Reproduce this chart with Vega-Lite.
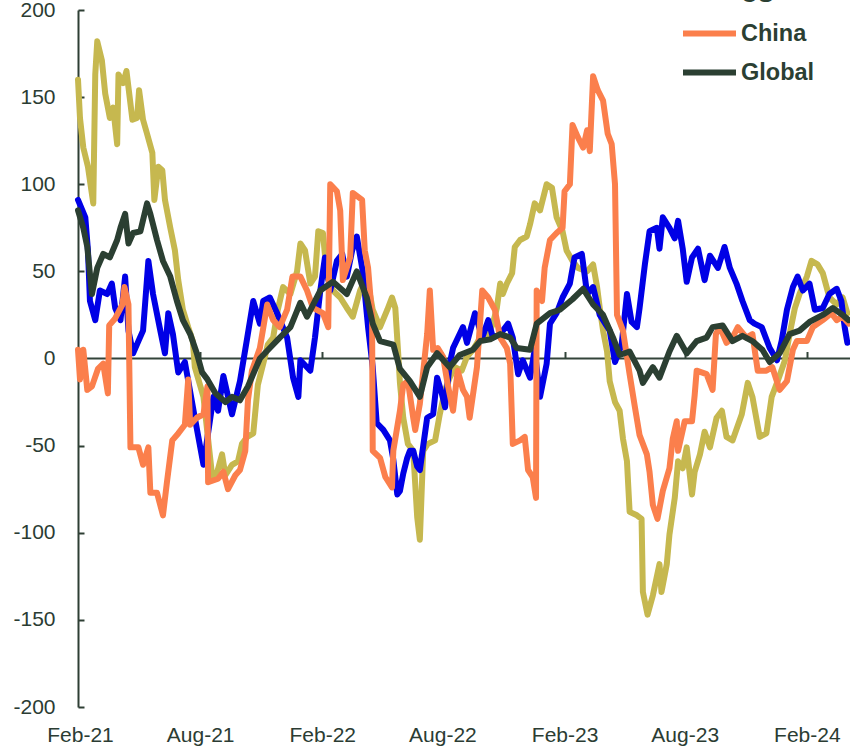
{
"$schema": "https://vega.github.io/schema/vega-lite/v6.json",
"width": 772, "height": 697,
"autosize": {"type": "none"},
"padding": {"left": 78, "top": 10, "right": 0, "bottom": 43},
"background": "white",
"config": {"view": {"stroke": null}, "font": "Liberation Sans"},
"layer": [
{"data": {"values": [{}]},
 "mark": {"type": "rule", "color": "#33443a", "strokeWidth": 2},
 "encoding": {
  "x": {"datum": {"year": 2021, "month": 1, "date": 29}, "type": "temporal",
        "scale": {"domain": [{"year": 2021, "month": 1, "date": 29}, {"year": 2024, "month": 4, "date": 6}]},
        "axis": {"orient": "top", "offset": -348.5, "title": null, "labels": false, "domain": false, "grid": false,
                 "ticks": true, "tickSize": 7, "tickWidth": 2, "tickColor": "#33443a",
                 "values": [{"year": 2021, "month": 2, "date": 1}, {"year": 2021, "month": 8, "date": 1}, {"year": 2022, "month": 2, "date": 1}, {"year": 2022, "month": 8, "date": 1}, {"year": 2023, "month": 2, "date": 1}, {"year": 2023, "month": 8, "date": 1}, {"year": 2024, "month": 2, "date": 1}]}},
  "x2": {"datum": {"year": 2024, "month": 4, "date": 6}},
  "y": {"datum": 0, "type": "quantitative", "title": null}
 }},
{"data": {"values": [
{"date":"2021-01-29","series":"Euro area","value":160},{"date":"2021-02-01","series":"Euro area","value":138},{"date":"2021-02-06","series":"Euro area","value":121},{"date":"2021-02-13","series":"Euro area","value":110},{"date":"2021-02-21","series":"Euro area","value":89},{"date":"2021-02-24","series":"Euro area","value":163},{"date":"2021-02-27","series":"Euro area","value":182},{"date":"2021-03-06","series":"Euro area","value":171},{"date":"2021-03-11","series":"Euro area","value":152},{"date":"2021-03-18","series":"Euro area","value":138},{"date":"2021-03-23","series":"Euro area","value":144},{"date":"2021-03-29","series":"Euro area","value":123},{"date":"2021-03-31","series":"Euro area","value":163},{"date":"2021-04-07","series":"Euro area","value":158},{"date":"2021-04-12","series":"Euro area","value":165},{"date":"2021-04-21","series":"Euro area","value":137},{"date":"2021-04-28","series":"Euro area","value":138},{"date":"2021-05-01","series":"Euro area","value":154},{"date":"2021-05-07","series":"Euro area","value":137},{"date":"2021-05-13","series":"Euro area","value":129},{"date":"2021-05-21","series":"Euro area","value":118},{"date":"2021-05-24","series":"Euro area","value":91},{"date":"2021-05-30","series":"Euro area","value":110},{"date":"2021-06-05","series":"Euro area","value":108},{"date":"2021-06-09","series":"Euro area","value":91},{"date":"2021-06-17","series":"Euro area","value":75},{"date":"2021-06-24","series":"Euro area","value":62},{"date":"2021-06-29","series":"Euro area","value":45},{"date":"2021-07-06","series":"Euro area","value":28},{"date":"2021-07-14","series":"Euro area","value":18},{"date":"2021-07-21","series":"Euro area","value":10},{"date":"2021-07-24","series":"Euro area","value":-5},{"date":"2021-08-06","series":"Euro area","value":-22},{"date":"2021-08-19","series":"Euro area","value":-67},{"date":"2021-08-24","series":"Euro area","value":-69},{"date":"2021-09-03","series":"Euro area","value":-55},{"date":"2021-09-08","series":"Euro area","value":-67},{"date":"2021-09-18","series":"Euro area","value":-61},{"date":"2021-09-27","series":"Euro area","value":-59},{"date":"2021-10-03","series":"Euro area","value":-49},{"date":"2021-10-11","series":"Euro area","value":-45},{"date":"2021-10-20","series":"Euro area","value":-43},{"date":"2021-10-27","series":"Euro area","value":-15},{"date":"2021-11-04","series":"Euro area","value":-3},{"date":"2021-11-11","series":"Euro area","value":8},{"date":"2021-11-19","series":"Euro area","value":12},{"date":"2021-11-26","series":"Euro area","value":28},{"date":"2021-12-04","series":"Euro area","value":41},{"date":"2021-12-15","series":"Euro area","value":37},{"date":"2021-12-25","series":"Euro area","value":50},{"date":"2021-12-30","series":"Euro area","value":66},{"date":"2022-01-06","series":"Euro area","value":62},{"date":"2022-01-14","series":"Euro area","value":43},{"date":"2022-01-21","series":"Euro area","value":47},{"date":"2022-01-26","series":"Euro area","value":73},{"date":"2022-02-02","series":"Euro area","value":72},{"date":"2022-02-08","series":"Euro area","value":47},{"date":"2022-02-17","series":"Euro area","value":39},{"date":"2022-02-28","series":"Euro area","value":35},{"date":"2022-03-10","series":"Euro area","value":29},{"date":"2022-03-19","series":"Euro area","value":24},{"date":"2022-03-30","series":"Euro area","value":39},{"date":"2022-04-09","series":"Euro area","value":47},{"date":"2022-04-18","series":"Euro area","value":28},{"date":"2022-04-29","series":"Euro area","value":18},{"date":"2022-05-10","series":"Euro area","value":28},{"date":"2022-05-17","series":"Euro area","value":35},{"date":"2022-05-22","series":"Euro area","value":29},{"date":"2022-05-26","series":"Euro area","value":5},{"date":"2022-05-29","series":"Euro area","value":-14},{"date":"2022-06-03","series":"Euro area","value":-34},{"date":"2022-06-10","series":"Euro area","value":-49},{"date":"2022-06-18","series":"Euro area","value":-53},{"date":"2022-06-24","series":"Euro area","value":-91},{"date":"2022-06-28","series":"Euro area","value":-104},{"date":"2022-07-03","series":"Euro area","value":-53},{"date":"2022-07-10","series":"Euro area","value":-49},{"date":"2022-07-21","series":"Euro area","value":-47},{"date":"2022-07-28","series":"Euro area","value":-32},{"date":"2022-08-05","series":"Euro area","value":-18},{"date":"2022-08-12","series":"Euro area","value":-11},{"date":"2022-08-20","series":"Euro area","value":-5},{"date":"2022-08-30","series":"Euro area","value":-7},{"date":"2022-09-07","series":"Euro area","value":1},{"date":"2022-09-16","series":"Euro area","value":5},{"date":"2022-09-27","series":"Euro area","value":12},{"date":"2022-10-07","series":"Euro area","value":12},{"date":"2022-10-16","series":"Euro area","value":20},{"date":"2022-10-22","series":"Euro area","value":29},{"date":"2022-10-27","series":"Euro area","value":43},{"date":"2022-10-31","series":"Euro area","value":37},{"date":"2022-11-06","series":"Euro area","value":43},{"date":"2022-11-14","series":"Euro area","value":49},{"date":"2022-11-18","series":"Euro area","value":64},{"date":"2022-11-26","series":"Euro area","value":68},{"date":"2022-12-06","series":"Euro area","value":70},{"date":"2022-12-11","series":"Euro area","value":77},{"date":"2022-12-18","series":"Euro area","value":89},{"date":"2022-12-26","series":"Euro area","value":85},{"date":"2022-12-30","series":"Euro area","value":91},{"date":"2023-01-05","series":"Euro area","value":100},{"date":"2023-01-13","series":"Euro area","value":98},{"date":"2023-01-20","series":"Euro area","value":81},{"date":"2023-01-29","series":"Euro area","value":73},{"date":"2023-02-04","series":"Euro area","value":62},{"date":"2023-02-13","series":"Euro area","value":56},{"date":"2023-02-21","series":"Euro area","value":52},{"date":"2023-03-07","series":"Euro area","value":50},{"date":"2023-03-16","series":"Euro area","value":54},{"date":"2023-03-22","series":"Euro area","value":41},{"date":"2023-03-26","series":"Euro area","value":29},{"date":"2023-03-31","series":"Euro area","value":16},{"date":"2023-04-06","series":"Euro area","value":4},{"date":"2023-04-10","series":"Euro area","value":-13},{"date":"2023-04-18","series":"Euro area","value":-25},{"date":"2023-04-25","series":"Euro area","value":-30},{"date":"2023-04-30","series":"Euro area","value":-46},{"date":"2023-05-06","series":"Euro area","value":-59},{"date":"2023-05-10","series":"Euro area","value":-88},{"date":"2023-05-21","series":"Euro area","value":-90},{"date":"2023-05-28","series":"Euro area","value":-92},{"date":"2023-05-30","series":"Euro area","value":-134},{"date":"2023-06-06","series":"Euro area","value":-147},{"date":"2023-06-14","series":"Euro area","value":-136},{"date":"2023-06-24","series":"Euro area","value":-118},{"date":"2023-06-27","series":"Euro area","value":-134},{"date":"2023-07-05","series":"Euro area","value":-118},{"date":"2023-07-09","series":"Euro area","value":-101},{"date":"2023-07-17","series":"Euro area","value":-80},{"date":"2023-07-22","series":"Euro area","value":-59},{"date":"2023-07-29","series":"Euro area","value":-63},{"date":"2023-08-04","series":"Euro area","value":-51},{"date":"2023-08-12","series":"Euro area","value":-78},{"date":"2023-08-16","series":"Euro area","value":-65},{"date":"2023-08-24","series":"Euro area","value":-55},{"date":"2023-08-31","series":"Euro area","value":-42},{"date":"2023-09-08","series":"Euro area","value":-51},{"date":"2023-09-18","series":"Euro area","value":-34},{"date":"2023-09-26","series":"Euro area","value":-30},{"date":"2023-10-03","series":"Euro area","value":-45},{"date":"2023-10-12","series":"Euro area","value":-47},{"date":"2023-10-26","series":"Euro area","value":-32},{"date":"2023-11-04","series":"Euro area","value":-14},{"date":"2023-11-11","series":"Euro area","value":-22},{"date":"2023-11-22","series":"Euro area","value":-45},{"date":"2023-12-02","series":"Euro area","value":-43},{"date":"2023-12-10","series":"Euro area","value":-22},{"date":"2023-12-19","series":"Euro area","value":-13},{"date":"2023-12-30","series":"Euro area","value":-1},{"date":"2024-01-06","series":"Euro area","value":14},{"date":"2024-01-14","series":"Euro area","value":29},{"date":"2024-01-21","series":"Euro area","value":37},{"date":"2024-02-01","series":"Euro area","value":47},{"date":"2024-02-08","series":"Euro area","value":56},{"date":"2024-02-17","series":"Euro area","value":54},{"date":"2024-02-25","series":"Euro area","value":49},{"date":"2024-03-06","series":"Euro area","value":35},{"date":"2024-03-17","series":"Euro area","value":31},{"date":"2024-03-26","series":"Euro area","value":35},{"date":"2024-04-02","series":"Euro area","value":26},
{"date":"2021-01-29","series":"US","value":91},{"date":"2021-02-09","series":"US","value":81},{"date":"2021-02-13","series":"US","value":62},{"date":"2021-02-16","series":"US","value":33},{"date":"2021-02-24","series":"US","value":22},{"date":"2021-03-03","series":"US","value":39},{"date":"2021-03-14","series":"US","value":37},{"date":"2021-03-21","series":"US","value":43},{"date":"2021-03-26","series":"US","value":29},{"date":"2021-04-03","series":"US","value":22},{"date":"2021-04-10","series":"US","value":47},{"date":"2021-04-15","series":"US","value":16},{"date":"2021-04-22","series":"US","value":3},{"date":"2021-04-30","series":"US","value":10},{"date":"2021-05-07","series":"US","value":16},{"date":"2021-05-15","series":"US","value":56},{"date":"2021-05-22","series":"US","value":37},{"date":"2021-06-02","series":"US","value":16},{"date":"2021-06-09","series":"US","value":3},{"date":"2021-06-14","series":"US","value":26},{"date":"2021-06-21","series":"US","value":14},{"date":"2021-06-29","series":"US","value":-8},{"date":"2021-07-09","series":"US","value":-2},{"date":"2021-07-24","series":"US","value":-34},{"date":"2021-08-06","series":"US","value":-61},{"date":"2021-08-21","series":"US","value":-22},{"date":"2021-08-28","series":"US","value":-30},{"date":"2021-09-05","series":"US","value":-10},{"date":"2021-09-18","series":"US","value":-32},{"date":"2021-09-30","series":"US","value":-13},{"date":"2021-10-11","series":"US","value":12},{"date":"2021-10-20","series":"US","value":33},{"date":"2021-10-30","series":"US","value":20},{"date":"2021-11-04","series":"US","value":33},{"date":"2021-11-14","series":"US","value":35},{"date":"2021-11-25","series":"US","value":26},{"date":"2021-12-10","series":"US","value":12},{"date":"2021-12-19","series":"US","value":-11},{"date":"2021-12-27","series":"US","value":-22},{"date":"2021-12-30","series":"US","value":-1},{"date":"2022-01-14","series":"US","value":-7},{"date":"2022-01-21","series":"US","value":12},{"date":"2022-01-29","series":"US","value":39},{"date":"2022-02-05","series":"US","value":58},{"date":"2022-02-13","series":"US","value":39},{"date":"2022-02-23","series":"US","value":56},{"date":"2022-03-03","series":"US","value":60},{"date":"2022-03-10","series":"US","value":47},{"date":"2022-03-18","series":"US","value":62},{"date":"2022-03-25","series":"US","value":70},{"date":"2022-04-03","series":"US","value":50},{"date":"2022-04-11","series":"US","value":18},{"date":"2022-04-18","series":"US","value":-5},{"date":"2022-04-24","series":"US","value":-37},{"date":"2022-05-04","series":"US","value":-41},{"date":"2022-05-14","series":"US","value":-47},{"date":"2022-05-19","series":"US","value":-58},{"date":"2022-05-25","series":"US","value":-78},{"date":"2022-05-29","series":"US","value":-76},{"date":"2022-06-03","series":"US","value":-66},{"date":"2022-06-09","series":"US","value":-57},{"date":"2022-06-13","series":"US","value":-53},{"date":"2022-06-18","series":"US","value":-53},{"date":"2022-06-24","series":"US","value":-62},{"date":"2022-06-28","series":"US","value":-64},{"date":"2022-07-09","series":"US","value":-34},{"date":"2022-07-18","series":"US","value":-32},{"date":"2022-07-24","series":"US","value":-11},{"date":"2022-07-31","series":"US","value":-20},{"date":"2022-08-05","series":"US","value":-28},{"date":"2022-08-12","series":"US","value":-3},{"date":"2022-08-17","series":"US","value":6},{"date":"2022-09-01","series":"US","value":18},{"date":"2022-09-07","series":"US","value":9},{"date":"2022-09-19","series":"US","value":26},{"date":"2022-09-30","series":"US","value":12},{"date":"2022-10-09","series":"US","value":22},{"date":"2022-10-16","series":"US","value":12},{"date":"2022-10-27","series":"US","value":14},{"date":"2022-11-08","series":"US","value":20},{"date":"2022-11-15","series":"US","value":12},{"date":"2022-11-23","series":"US","value":-9},{"date":"2022-11-30","series":"US","value":-1},{"date":"2022-12-11","series":"US","value":-11},{"date":"2022-12-18","series":"US","value":5},{"date":"2022-12-26","series":"US","value":-22},{"date":"2023-01-05","series":"US","value":-3},{"date":"2023-01-10","series":"US","value":20},{"date":"2023-01-20","series":"US","value":26},{"date":"2023-01-29","series":"US","value":35},{"date":"2023-02-09","series":"US","value":43},{"date":"2023-02-16","series":"US","value":58},{"date":"2023-02-27","series":"US","value":60},{"date":"2023-03-07","series":"US","value":37},{"date":"2023-03-16","series":"US","value":41},{"date":"2023-03-26","series":"US","value":25},{"date":"2023-04-10","series":"US","value":16},{"date":"2023-04-18","series":"US","value":-2},{"date":"2023-04-28","series":"US","value":8},{"date":"2023-05-06","series":"US","value":37},{"date":"2023-05-13","series":"US","value":21},{"date":"2023-05-21","series":"US","value":18},{"date":"2023-05-25","series":"US","value":29},{"date":"2023-06-02","series":"US","value":54},{"date":"2023-06-09","series":"US","value":73},{"date":"2023-06-20","series":"US","value":75},{"date":"2023-06-24","series":"US","value":63},{"date":"2023-06-29","series":"US","value":81},{"date":"2023-07-09","series":"US","value":75},{"date":"2023-07-17","series":"US","value":69},{"date":"2023-07-22","series":"US","value":79},{"date":"2023-07-29","series":"US","value":63},{"date":"2023-08-04","series":"US","value":44},{"date":"2023-08-12","series":"US","value":58},{"date":"2023-08-21","series":"US","value":63},{"date":"2023-08-31","series":"US","value":45},{"date":"2023-09-08","series":"US","value":59},{"date":"2023-09-20","series":"US","value":52},{"date":"2023-09-30","series":"US","value":64},{"date":"2023-10-08","series":"US","value":52},{"date":"2023-10-18","series":"US","value":43},{"date":"2023-10-27","series":"US","value":33},{"date":"2023-11-07","series":"US","value":22},{"date":"2023-11-14","series":"US","value":20},{"date":"2023-11-25","series":"US","value":18},{"date":"2023-12-07","series":"US","value":6},{"date":"2023-12-18","series":"US","value":-1},{"date":"2023-12-25","series":"US","value":10},{"date":"2024-01-02","series":"US","value":28},{"date":"2024-01-11","series":"US","value":41},{"date":"2024-01-18","series":"US","value":47},{"date":"2024-01-26","series":"US","value":39},{"date":"2024-02-05","series":"US","value":43},{"date":"2024-02-13","series":"US","value":28},{"date":"2024-02-25","series":"US","value":29},{"date":"2024-03-06","series":"US","value":37},{"date":"2024-03-17","series":"US","value":40},{"date":"2024-03-24","series":"US","value":33},{"date":"2024-03-29","series":"US","value":18},{"date":"2024-04-02","series":"US","value":9},
{"date":"2021-01-29","series":"China","value":5},{"date":"2021-02-01","series":"China","value":-12},{"date":"2021-02-06","series":"China","value":5},{"date":"2021-02-12","series":"China","value":-18},{"date":"2021-02-19","series":"China","value":-16},{"date":"2021-02-28","series":"China","value":-6},{"date":"2021-03-08","series":"China","value":-3},{"date":"2021-03-15","series":"China","value":-20},{"date":"2021-03-17","series":"China","value":19},{"date":"2021-03-26","series":"China","value":23},{"date":"2021-04-06","series":"China","value":31},{"date":"2021-04-09","series":"China","value":41},{"date":"2021-04-15","series":"China","value":31},{"date":"2021-04-18","series":"China","value":-51},{"date":"2021-04-30","series":"China","value":-51},{"date":"2021-05-07","series":"China","value":-61},{"date":"2021-05-15","series":"China","value":-51},{"date":"2021-05-18","series":"China","value":-77},{"date":"2021-05-28","series":"China","value":-77},{"date":"2021-06-06","series":"China","value":-90},{"date":"2021-06-12","series":"China","value":-71},{"date":"2021-06-20","series":"China","value":-47},{"date":"2021-06-29","series":"China","value":-43},{"date":"2021-07-09","series":"China","value":-38},{"date":"2021-07-14","series":"China","value":-12},{"date":"2021-07-17","series":"China","value":-38},{"date":"2021-07-27","series":"China","value":-34},{"date":"2021-08-06","series":"China","value":-32},{"date":"2021-08-12","series":"China","value":-16},{"date":"2021-08-13","series":"China","value":-71},{"date":"2021-08-28","series":"China","value":-69},{"date":"2021-09-05","series":"China","value":-65},{"date":"2021-09-12","series":"China","value":-75},{"date":"2021-09-23","series":"China","value":-67},{"date":"2021-09-30","series":"China","value":-64},{"date":"2021-10-08","series":"China","value":-53},{"date":"2021-10-12","series":"China","value":-24},{"date":"2021-10-18","series":"China","value":-7},{"date":"2021-10-30","series":"China","value":6},{"date":"2021-11-10","series":"China","value":31},{"date":"2021-11-19","series":"China","value":22},{"date":"2021-11-29","series":"China","value":18},{"date":"2021-12-10","series":"China","value":28},{"date":"2021-12-18","series":"China","value":47},{"date":"2021-12-30","series":"China","value":47},{"date":"2022-01-09","series":"China","value":39},{"date":"2022-01-18","series":"China","value":29},{"date":"2022-02-02","series":"China","value":26},{"date":"2022-02-10","series":"China","value":18},{"date":"2022-02-13","series":"China","value":100},{"date":"2022-02-23","series":"China","value":96},{"date":"2022-02-28","series":"China","value":85},{"date":"2022-03-04","series":"China","value":45},{"date":"2022-03-15","series":"China","value":58},{"date":"2022-03-19","series":"China","value":95},{"date":"2022-04-02","series":"China","value":91},{"date":"2022-04-06","series":"China","value":62},{"date":"2022-04-11","series":"China","value":52},{"date":"2022-04-17","series":"China","value":24},{"date":"2022-04-18","series":"China","value":-53},{"date":"2022-04-29","series":"China","value":-57},{"date":"2022-05-07","series":"China","value":-68},{"date":"2022-05-17","series":"China","value":-74},{"date":"2022-05-19","series":"China","value":-53},{"date":"2022-05-29","series":"China","value":-30},{"date":"2022-06-03","series":"China","value":-15},{"date":"2022-06-10","series":"China","value":-13},{"date":"2022-06-18","series":"China","value":-34},{"date":"2022-06-21","series":"China","value":-41},{"date":"2022-06-28","series":"China","value":-26},{"date":"2022-07-09","series":"China","value":14},{"date":"2022-07-13","series":"China","value":39},{"date":"2022-07-18","series":"China","value":5},{"date":"2022-07-25","series":"China","value":6},{"date":"2022-08-02","series":"China","value":1},{"date":"2022-08-09","series":"China","value":-15},{"date":"2022-08-17","series":"China","value":-30},{"date":"2022-08-24","series":"China","value":-7},{"date":"2022-09-01","series":"China","value":-18},{"date":"2022-09-07","series":"China","value":-22},{"date":"2022-09-11","series":"China","value":-34},{"date":"2022-09-22","series":"China","value":-5},{"date":"2022-09-30","series":"China","value":39},{"date":"2022-10-09","series":"China","value":35},{"date":"2022-10-19","series":"China","value":28},{"date":"2022-10-27","series":"China","value":12},{"date":"2022-11-06","series":"China","value":6},{"date":"2022-11-11","series":"China","value":-3},{"date":"2022-11-15","series":"China","value":-49},{"date":"2022-11-26","series":"China","value":-47},{"date":"2022-12-03","series":"China","value":-45},{"date":"2022-12-08","series":"China","value":-64},{"date":"2022-12-15","series":"China","value":-68},{"date":"2022-12-20","series":"China","value":-80},{"date":"2022-12-21","series":"China","value":39},{"date":"2022-12-29","series":"China","value":33},{"date":"2023-01-02","series":"China","value":52},{"date":"2023-01-10","series":"China","value":68},{"date":"2023-01-20","series":"China","value":72},{"date":"2023-01-29","series":"China","value":75},{"date":"2023-02-01","series":"China","value":96},{"date":"2023-02-09","series":"China","value":100},{"date":"2023-02-13","series":"China","value":134},{"date":"2023-02-21","series":"China","value":127},{"date":"2023-03-01","series":"China","value":121},{"date":"2023-03-07","series":"China","value":131},{"date":"2023-03-11","series":"China","value":119},{"date":"2023-03-16","series":"China","value":162},{"date":"2023-03-23","series":"China","value":154},{"date":"2023-03-31","series":"China","value":148},{"date":"2023-04-07","series":"China","value":129},{"date":"2023-04-13","series":"China","value":123},{"date":"2023-04-18","series":"China","value":100},{"date":"2023-04-21","series":"China","value":25},{"date":"2023-04-30","series":"China","value":16},{"date":"2023-05-10","series":"China","value":-9},{"date":"2023-05-18","series":"China","value":-28},{"date":"2023-05-25","series":"China","value":-44},{"date":"2023-06-05","series":"China","value":-55},{"date":"2023-06-09","series":"China","value":-65},{"date":"2023-06-14","series":"China","value":-84},{"date":"2023-06-21","series":"China","value":-92},{"date":"2023-06-29","series":"China","value":-76},{"date":"2023-07-09","series":"China","value":-63},{"date":"2023-07-14","series":"China","value":-46},{"date":"2023-07-20","series":"China","value":-36},{"date":"2023-07-22","series":"China","value":-53},{"date":"2023-08-01","series":"China","value":-36},{"date":"2023-08-12","series":"China","value":-36},{"date":"2023-08-16","series":"China","value":-21},{"date":"2023-08-19","series":"China","value":-7},{"date":"2023-09-03","series":"China","value":-9},{"date":"2023-09-12","series":"China","value":-18},{"date":"2023-09-17","series":"China","value":14},{"date":"2023-09-23","series":"China","value":18},{"date":"2023-10-03","series":"China","value":9},{"date":"2023-10-12","series":"China","value":12},{"date":"2023-10-20","series":"China","value":18},{"date":"2023-11-02","series":"China","value":12},{"date":"2023-11-11","series":"China","value":14},{"date":"2023-11-19","series":"China","value":-7},{"date":"2023-12-02","series":"China","value":-7},{"date":"2023-12-11","series":"China","value":-5},{"date":"2023-12-22","series":"China","value":-18},{"date":"2024-01-02","series":"China","value":-13},{"date":"2024-01-11","series":"China","value":5},{"date":"2024-01-17","series":"China","value":10},{"date":"2024-02-01","series":"China","value":10},{"date":"2024-02-10","series":"China","value":18},{"date":"2024-02-25","series":"China","value":22},{"date":"2024-03-09","series":"China","value":26},{"date":"2024-03-17","series":"China","value":22},{"date":"2024-03-26","series":"China","value":24},{"date":"2024-04-04","series":"China","value":20},
{"date":"2021-01-29","series":"Global","value":85},{"date":"2021-02-06","series":"Global","value":75},{"date":"2021-02-12","series":"Global","value":64},{"date":"2021-02-19","series":"Global","value":37},{"date":"2021-02-27","series":"Global","value":52},{"date":"2021-03-08","series":"Global","value":60},{"date":"2021-03-18","series":"Global","value":58},{"date":"2021-03-29","series":"Global","value":68},{"date":"2021-04-03","series":"Global","value":75},{"date":"2021-04-10","series":"Global","value":83},{"date":"2021-04-15","series":"Global","value":66},{"date":"2021-04-22","series":"Global","value":72},{"date":"2021-05-03","series":"Global","value":73},{"date":"2021-05-13","series":"Global","value":89},{"date":"2021-05-18","series":"Global","value":83},{"date":"2021-05-28","series":"Global","value":68},{"date":"2021-06-06","series":"Global","value":56},{"date":"2021-06-17","series":"Global","value":47},{"date":"2021-06-27","series":"Global","value":33},{"date":"2021-07-06","series":"Global","value":22},{"date":"2021-07-17","series":"Global","value":14},{"date":"2021-07-27","series":"Global","value":3},{"date":"2021-08-04","series":"Global","value":-8},{"date":"2021-08-12","series":"Global","value":-12},{"date":"2021-08-24","series":"Global","value":-20},{"date":"2021-09-08","series":"Global","value":-25},{"date":"2021-09-18","series":"Global","value":-22},{"date":"2021-09-30","series":"Global","value":-24},{"date":"2021-10-12","series":"Global","value":-16},{"date":"2021-10-30","series":"Global","value":0},{"date":"2021-11-14","series":"Global","value":6},{"date":"2021-11-29","series":"Global","value":12},{"date":"2021-12-15","series":"Global","value":18},{"date":"2021-12-30","series":"Global","value":32},{"date":"2022-01-09","series":"Global","value":24},{"date":"2022-01-29","series":"Global","value":39},{"date":"2022-02-17","series":"Global","value":44},{"date":"2022-03-10","series":"Global","value":37},{"date":"2022-03-25","series":"Global","value":50},{"date":"2022-04-09","series":"Global","value":35},{"date":"2022-04-18","series":"Global","value":20},{"date":"2022-04-29","series":"Global","value":10},{"date":"2022-05-19","series":"Global","value":8},{"date":"2022-05-29","series":"Global","value":-6},{"date":"2022-06-13","series":"Global","value":-13},{"date":"2022-06-28","series":"Global","value":-22},{"date":"2022-07-09","series":"Global","value":-5},{"date":"2022-07-24","series":"Global","value":3},{"date":"2022-08-12","series":"Global","value":-5},{"date":"2022-08-27","series":"Global","value":2},{"date":"2022-09-16","series":"Global","value":5},{"date":"2022-09-27","series":"Global","value":10},{"date":"2022-10-12","series":"Global","value":11},{"date":"2022-10-27","series":"Global","value":14},{"date":"2022-11-11","series":"Global","value":12},{"date":"2022-11-21","series":"Global","value":6},{"date":"2022-12-11","series":"Global","value":5},{"date":"2022-12-21","series":"Global","value":20},{"date":"2023-01-10","series":"Global","value":26},{"date":"2023-01-25","series":"Global","value":28},{"date":"2023-02-13","series":"Global","value":34},{"date":"2023-03-01","series":"Global","value":40},{"date":"2023-03-16","series":"Global","value":31},{"date":"2023-03-31","series":"Global","value":25},{"date":"2023-04-15","series":"Global","value":12},{"date":"2023-04-25","series":"Global","value":2},{"date":"2023-05-10","series":"Global","value":4},{"date":"2023-05-25","series":"Global","value":-7},{"date":"2023-05-30","series":"Global","value":-14},{"date":"2023-06-14","series":"Global","value":-5},{"date":"2023-06-24","series":"Global","value":-11},{"date":"2023-07-09","series":"Global","value":4},{"date":"2023-07-20","series":"Global","value":13},{"date":"2023-08-04","series":"Global","value":3},{"date":"2023-08-19","series":"Global","value":10},{"date":"2023-09-03","series":"Global","value":12},{"date":"2023-09-12","series":"Global","value":18},{"date":"2023-09-27","series":"Global","value":19},{"date":"2023-10-12","series":"Global","value":10},{"date":"2023-10-27","series":"Global","value":13},{"date":"2023-11-11","series":"Global","value":10},{"date":"2023-11-26","series":"Global","value":5},{"date":"2023-12-07","series":"Global","value":-2},{"date":"2023-12-22","series":"Global","value":3},{"date":"2024-01-06","series":"Global","value":14},{"date":"2024-01-21","series":"Global","value":16},{"date":"2024-02-05","series":"Global","value":21},{"date":"2024-02-25","series":"Global","value":25},{"date":"2024-03-11","series":"Global","value":29},{"date":"2024-03-26","series":"Global","value":25},{"date":"2024-04-04","series":"Global","value":22}
]},
 "mark": {"type": "line", "strokeJoin": "round", "strokeCap": "round"},
 "encoding": {
  "x": {"field": "date", "type": "temporal",
        "axis": {"orient": "bottom", "title": null, "ticks": false, "domain": false, "grid": false,
                 "format": "%b-%y", "labelFont": "Liberation Sans", "labelFontSize": 21, "labelColor": "#2b3c33",
                 "labelPadding": 17, "labelFlush": false, "labelOverlap": false,
                 "values": [{"year": 2021, "month": 2, "date": 1}, {"year": 2021, "month": 8, "date": 1}, {"year": 2022, "month": 2, "date": 1}, {"year": 2022, "month": 8, "date": 1}, {"year": 2023, "month": 2, "date": 1}, {"year": 2023, "month": 8, "date": 1}, {"year": 2024, "month": 2, "date": 1}]}},
  "y": {"field": "value", "type": "quantitative",
        "scale": {"domain": [-200, 200], "nice": false, "zero": false},
        "axis": {"title": null, "grid": false, "values": [-200, -150, -100, -50, 0, 50, 100, 150, 200],
                 "labelExpr": "'' + datum.value", "labelFont": "Liberation Sans", "labelFontSize": 21, "labelColor": "#2b3c33",
                 "domainColor": "#2e3f34", "domainWidth": 2, "tickColor": "#2e3f34", "tickWidth": 2, "tickSize": -6, "labelPadding": 29}},
  "color": {"field": "series", "type": "nominal",
            "scale": {"domain": ["Euro area", "US", "China", "Global"], "range": ["#c6b84f", "#0000e6", "#fb7f4c", "#2b3f32"]},
            "legend": {"orient": "none", "legendX": 615, "legendY": -71, "title": null, "padding": 0,
                       "symbolType": "M-2,0H2", "symbolSize": 702, "symbolStrokeWidth": 6,
                       "labelFont": "Liberation Sans", "labelFontSize": 23.5, "labelFontWeight": "bold", "labelColor": "#2b3f33",
                       "labelOffset": 15, "rowPadding": 10}},
  "strokeWidth": {"field": "series", "type": "nominal", "legend": null,
                  "scale": {"domain": ["Euro area", "US", "China", "Global"], "range": [6, 6, 6, 7.5]}}
 }}
],
"resolve": {"axis": {"x": "independent"}}
}
